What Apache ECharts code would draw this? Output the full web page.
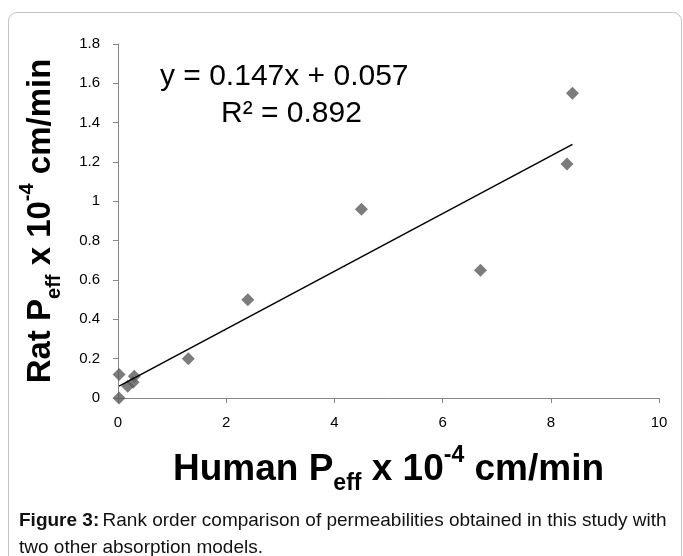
<!DOCTYPE html>
<html>
<head>
<meta charset="utf-8">
<script src="https://cdn.jsdelivr.net/npm/echarts@6/dist/echarts.min.js"></script>
<style>
  html, body { margin: 0; padding: 0; background: #fff; overflow: hidden; }
  #frame {
    position: absolute; left: 8px; top: 12px; width: 674px; height: 600px;
    border: 1px solid #c4c4c4; border-radius: 9px; box-sizing: border-box;
  }
  #chart { position: absolute; left: 0; top: 0; width: 683px; height: 556px; }
</style>
</head>
<body>
<div id="frame"></div>
<div id="chart"></div>
<script>
// Human vs rat effective permeability (x 10^-4 cm/min)
const humanPeff = [0.02, 0.02, 0.18, 0.28, 0.3, 1.3, 2.4, 4.5, 6.7, 8.3, 8.4]
const ratPeff = [0.0, 0.12, 0.06, 0.08, 0.11, 0.2, 0.5, 0.96, 0.65, 1.19, 1.55]

// linear trend line endpoints (y = 0.147x + 0.057)
const trendX = [0.02, 8.4]
const trendY = [0.06, 1.29]

const equationText = 'y = 0.147x + 0.057'
const r2Text = 'R² = 0.892'

const chart = echarts.init(document.getElementById('chart'), null, { renderer: 'canvas' })

const axisColor = '#868686'
const tickFont = '"Liberation Sans", Arial, sans-serif'
const titleFont = '"Liberation Sans", Arial, sans-serif'

const makeRich = (size) => ({
  a: { fontSize: size, fontWeight: 'bold', color: '#000', fontFamily: titleFont, lineHeight: size + 14 },
  s: { fontSize: Math.round(size * 0.62), fontWeight: 'bold', color: '#000', fontFamily: titleFont, verticalAlign: 'bottom', lineHeight: Math.round(size * 0.62) },
  p: { fontSize: Math.round(size * 0.62), fontWeight: 'bold', color: '#000', fontFamily: titleFont, verticalAlign: 'top', lineHeight: size - 2 },
})

const option = {
  backgroundColor: 'transparent',
  animation: false,
  grid: {
    left: 118,
    right: 24,
    top: 44,
    bottom: 158,
  },
  xAxis: {
    type: 'value',
    min: 0,
    max: 10,
    interval: 2,
    name: '{a|Human P}{s|eff}{a| x 10}{p|-4}{a| cm/min}',
    nameLocation: 'middle',
    nameGap: 46,
    nameTextStyle: { rich: makeRich(37) },
    splitLine: { show: false },
    axisLine: { onZero: false, lineStyle: { color: axisColor, width: 1 } },
    axisTick: { length: 5, lineStyle: { color: axisColor } },
    axisLabel: { color: '#000', fontSize: 15, fontFamily: tickFont, margin: 17 },
  },
  yAxis: {
    type: 'value',
    min: 0,
    max: 1.8,
    interval: 0.2,
    name: '{a|Rat P}{s|eff}{a| x 10}{p|-4}{a| cm/min}',
    nameLocation: 'middle',
    nameGap: 54,
    nameTextStyle: { rich: makeRich(33) },
    splitLine: { show: false },
    axisLine: { show: true, lineStyle: { color: axisColor, width: 1 } },
    axisTick: { show: true, length: 5, lineStyle: { color: axisColor } },
    axisLabel: { color: '#000', fontSize: 15, fontFamily: tickFont, margin: 18 },
  },
  series: [
    {
      name: 'Trend',
      type: 'line',
      data: trendX.map((x, i) => [x, trendY[i]]),
      showSymbol: false,
      symbol: 'none',
      lineStyle: { color: '#000', width: 1.5 },
      z: 3,
    },
    {
      name: 'Peff',
      type: 'scatter',
      data: humanPeff.map((x, i) => [x, ratPeff[i]]),
      symbol: 'diamond',
      symbolSize: 13,
      itemStyle: { color: '#5b5b5b' },
      z: 2,
    },
  ],
  graphic: [
    {
      type: 'text',
      left: 160,
      top: 62,
      style: { text: equationText, font: '30px ' + titleFont, fill: '#000' },
    },
    {
      type: 'text',
      left: 221,
      top: 99,
      style: { text: r2Text, font: '30px ' + titleFont, fill: '#000' },
    },
    {
      type: 'text',
      left: 19,
      top: 511,
      style: {
        text: '{b|Figure 3:} {n|Rank order comparison of permeabilities obtained in this study with}\n{n|two other absorption models.}',
        rich: {
          b: { fontSize: 19, fontWeight: 'bold', fontFamily: titleFont, fill: '#111', lineHeight: 27 },
          n: { fontSize: 19, fontFamily: titleFont, fill: '#111', lineHeight: 27 },
        },
      },
    },
  ],
}

chart.setOption(option)
</script>
</body>
</html>
